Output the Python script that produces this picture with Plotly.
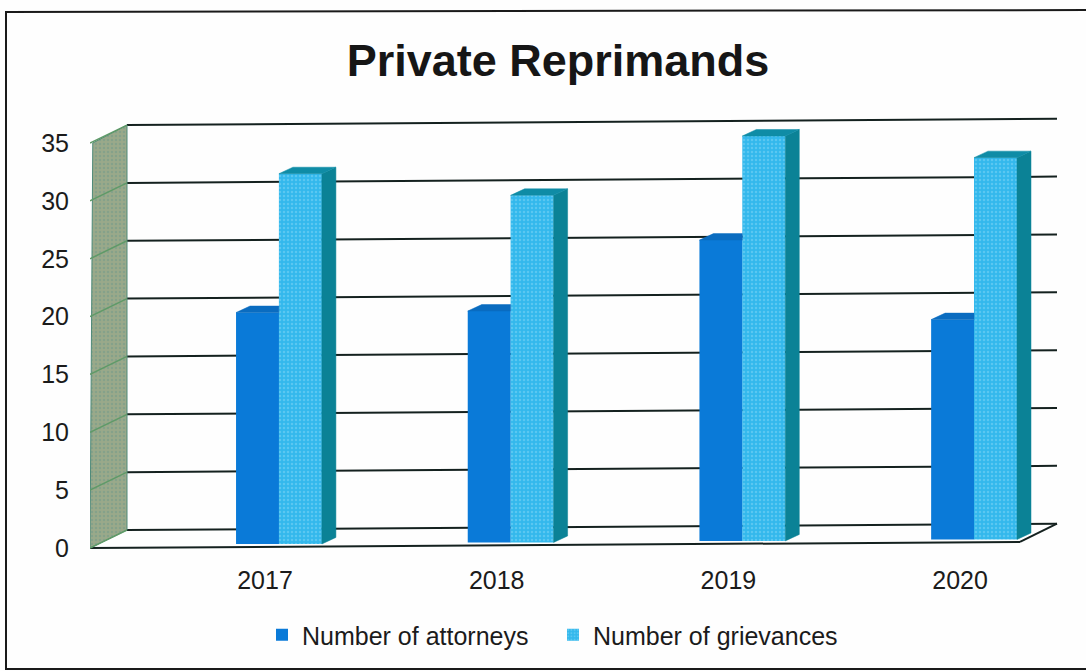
import plotly.graph_objects as go

years = ["2017", "2018", "2019", "2020"]
attorneys = [20, 20, 26, 19]
grievances = [32, 30, 35, 33]
y_ticks = [0, 5, 10, 15, 20, 25, 30, 35]

W, H = 1086, 671
ML, MR, MT, MB = 90, 26, 110, 116
PW, PH = W - ML - MR, H - MT - MB
CAT_PX = 231.7
VAL_PX = 11.57
X0 = (90 - 265) / CAT_PX
XR = (1020 - 265) / CAT_PX
XMAX = (1060 - 265) / CAT_PX
SK = 0.13
WALL_DX, WALL_DY = 37 / CAT_PX, 18 / VAL_PX
BAR_DX, BAR_DY = 14 / CAT_PX, 6.5 / VAL_PX
BW = 43 / CAT_PX
OFF_A, OFF_G = -0.125 + BW / 2, 0.06 + BW / 2
BASE = 0.35

C_A, C_G = "#0a7ad8", "#33b8ec"
C_SIDE, C_TOP_G, C_TOP_A = "#0b8296", "#0f8ca6", "#0a6cc0"
C_WALL, C_LINE = "#9aa98a", "#14211f"
FONT = "Liberation Sans"
TXT = "#1b1b1b"


def sk(x):
    return SK * (x - X0)


def poly(points):
    xs, ys = [], []
    for group in points:
        xs += [p[0] for p in group] + [group[0][0], None]
        ys += [p[1] for p in group] + [group[0][1], None]
    return xs, ys


idx = list(range(len(years)))
base = [BASE + SK * i for i in idx]
fig = go.Figure()

# back wall + floor + grid, under the bars
shapes = []
for v in y_ticks:
    bx, ex = X0 + WALL_DX, XR + WALL_DX
    shapes.append(dict(type="line", layer="below", xref="x", yref="y", x0=bx, x1=ex,
                       y0=v + WALL_DY, y1=v + WALL_DY + sk(ex),
                       line=dict(color=C_LINE, width=2)))
floor = [(X0, 0), (XR, sk(XR)), (XR + WALL_DX, sk(XR + WALL_DX) + WALL_DY)]
for a, b in zip(floor[:-1], floor[1:]):
    shapes.append(dict(type="line", layer="below", xref="x", yref="y", x0=a[0], x1=b[0],
                       y0=a[1], y1=b[1], line=dict(color=C_LINE, width=2)))


def px_x(p):
    return (p - ML) / PW


def px_y(p):
    return (H - MB - p) / PH


shapes.append(dict(type="path", layer="below", xref="paper", yref="paper",
                   path=f"M{px_x(W)},{px_y(10)} L{px_x(6)},{px_y(12)} L{px_x(6)},{px_y(669)} L{px_x(W)},{px_y(669)}",
                   line=dict(color="#1a1a1a", width=2)))

# wall
wall_x, wall_y = poly([[(X0, 0), (X0 + WALL_DX, WALL_DY), (X0 + WALL_DX, 35 + WALL_DY), (X0 + 0.012, 35)]])
fig.add_trace(go.Scatter(x=wall_x, y=wall_y, mode="lines", fill="toself", fillcolor=C_WALL,
                         fillpattern=dict(shape=".", fgcolor="#6f9a8a", bgcolor=C_WALL, size=4, solidity=0.35),
                         line=dict(color="#4f8a78", width=1), showlegend=False, hoverinfo="skip", cliponaxis=False))
gx, gy = [], []
for v in y_ticks:
    gx += [X0, X0 + WALL_DX, None]
    gy += [v, v + WALL_DY, None]
fig.add_trace(go.Scatter(x=gx, y=gy, mode="lines", line=dict(color="#5f9a68", width=1.5),
                         showlegend=False, hoverinfo="skip", cliponaxis=False))

# front faces
fig.add_trace(go.Bar(x=[i + OFF_A for i in idx], y=attorneys, base=base, width=BW, name="Number of attorneys",
                     marker=dict(color=C_A, line=dict(width=0))))
fig.add_trace(go.Bar(x=[i + OFF_G for i in idx], y=grievances, base=base, width=BW, name="Number of grievances",
                     marker=dict(color=C_G, line=dict(width=0),
                                 pattern=dict(shape=".", fgcolor="#7fd6f5", bgcolor=C_G, size=4, solidity=0.3))))

# depth faces, computed from the same values
side, top_g, top_a = [], [], []
for i, a, g, b in zip(idx, attorneys, grievances, base):
    l, r = i + OFF_G - BW / 2, i + OFF_G + BW / 2
    t = b + g
    side.append([(r, b), (r + BAR_DX, b + BAR_DY), (r + BAR_DX, t + BAR_DY), (r, t)])
    top_g.append([(l, t), (l + BAR_DX, t + BAR_DY), (r + BAR_DX, t + BAR_DY), (r, t)])
    la = i + OFF_A - BW / 2
    ta = b + a
    top_a.append([(la, ta), (la + BAR_DX, ta + BAR_DY), (l, ta + BAR_DY), (l, ta)])
for pts, col in [(side, C_SIDE), (top_g, C_TOP_G), (top_a, C_TOP_A)]:
    xs, ys = poly(pts)
    fig.add_trace(go.Scatter(x=xs, y=ys, mode="lines", fill="toself", fillcolor=col, line=dict(color=col, width=0.5),
                             showlegend=False, hoverinfo="skip"))

fig.update_layout(
    width=W, height=H, margin=dict(l=ML, r=MR, t=MT, b=MB, pad=0),
    paper_bgcolor="#fefefe", plot_bgcolor="rgba(0,0,0,0)", barmode="overlay", shapes=shapes,
    font=dict(family=FONT, size=25, color=TXT),
    title=dict(text="<b>Private Reprimands</b>", x=558 / W, xanchor="center", y=1 - 60 / H, yanchor="middle",
               font=dict(family=FONT, size=45, color="#161616")),
    xaxis=dict(range=[X0, XMAX], tickmode="array", tickvals=idx, ticktext=years, showgrid=False, zeroline=False,
               showline=False, ticks="", ticklabelstandoff=8, fixedrange=True),
    yaxis=dict(range=[(548 - (H - MB)) / VAL_PX, (548 - MT) / VAL_PX], tickmode="array", tickvals=y_ticks,
               showgrid=False, zeroline=False, showline=False, ticks="", ticklabelstandoff=20, fixedrange=True),
    legend=dict(orientation="h", x=px_x(262), xanchor="left", y=px_y(635), yanchor="middle",
                entrywidth=246, entrywidthmode="pixels", bgcolor="rgba(0,0,0,0)",
                font=dict(family=FONT, size=25, color=TXT)),
)
fig.write_html("out.html", config=dict(displayModeBar=False),
               post_script="document.body.style.margin='0';document.body.style.overflow='hidden';")
